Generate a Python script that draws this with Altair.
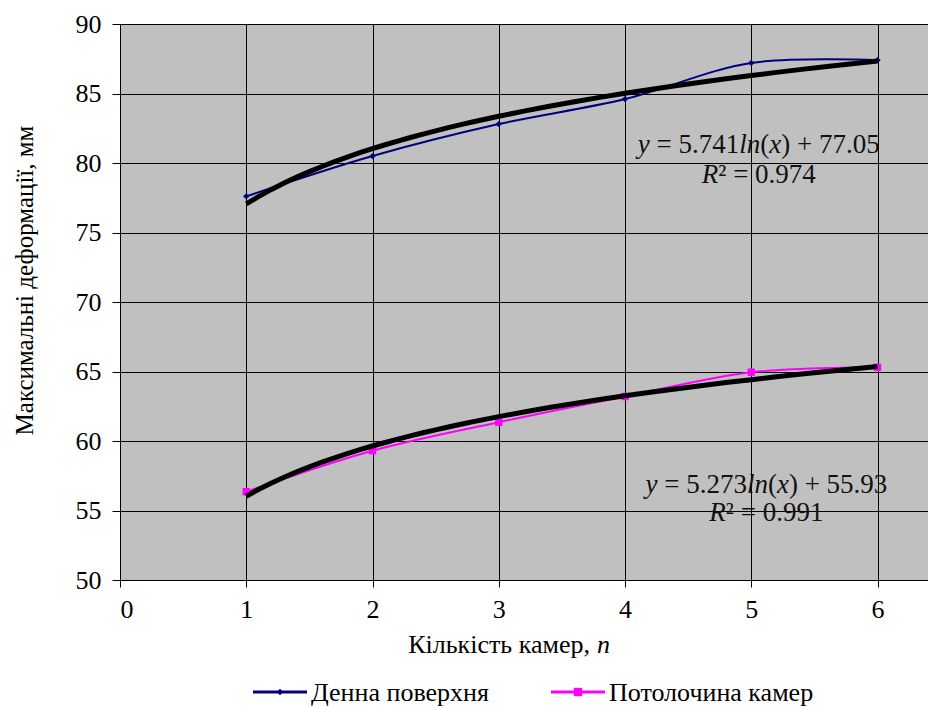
import altair as alt
import pandas as pd

x_vals = [1, 2, 3, 4, 5, 6]
surface = [77.6, 80.5, 82.8, 84.6, 87.2, 87.4]
ceiling = [56.35, 59.3, 61.35, 63.2, 64.95, 65.3]
series_names = ["Денна поверхня", "Потолочина камер"]
colors = ["#000080", "#FF00FF"]
y_ticks = [50, 55, 60, 65, 70, 75, 80, 85, 90]
x_ticks = [0, 1, 2, 3, 4, 5, 6]

# equation lines: (text piece, italic?, leading spaces) ; centre in data coords
eq_lines = [
    [("y", True, 0), ("= 5.741", False, 1), ("ln", True, 0), ("(", False, 0), ("x", True, 0), (") + 77.05", False, 0)],
    [("R", True, 0), ("² = 0.974", False, 0)],
    [("y", True, 0), ("= 5.273", False, 1), ("ln", True, 0), ("(", False, 0), ("x", True, 0), (") + 55.93", False, 0)],
    [("R", True, 0), ("² = 0.991", False, 0)],
]
eq_cx = [5.06, 5.06, 5.12, 5.12]
eq_cy = [81.3, 79.15, 56.85, 54.85]

FONT = "Liberation Serif"
EQ_SIZE = 27

# Times / Liberation Serif advance widths (em/1000)
W_NORM = {" ": 250, "=": 564, "+": 564, ".": 250, "(": 333, ")": 333, "²": 300}
W_ITAL = {"y": 444, "l": 278, "n": 500, "x": 444, "R": 611}


def text_width(s, italic):
    tot = 0
    for ch in s:
        if italic:
            tot += W_ITAL.get(ch, 500)
        else:
            tot += W_NORM.get(ch, 500)
    return tot / 1000 * EQ_SIZE


SPACE = 250 / 1000 * EQ_SIZE

df = pd.DataFrame({
    "x": x_vals * 2,
    "y": surface + ceiling,
    "series": [series_names[0]] * 6 + [series_names[1]] * 6,
})

xs = alt.Scale(domain=[0, 6.4], nice=False, zero=False)
ys = alt.Scale(domain=[50, 90], nice=False, zero=False)
cs = alt.Scale(domain=series_names, range=colors)

xax = alt.Axis(values=x_ticks, format="d", title=None, grid=True, gridColor="black",
               gridOpacity=1, gridWidth=1, domainColor="black", tickColor="black", tickSize=7,
               labelPadding=9, labelFont=FONT, labelFontSize=26, labelColor="black")
yax = alt.Axis(values=y_ticks, format="d", title="Максимальні деформації, мм", grid=True, gridColor="black",
               gridOpacity=1, gridWidth=1, domainColor="black", tickColor="black", tickSize=8,
               labelPadding=11, labelFont=FONT, labelFontSize=26, labelColor="black",
               titleFont=FONT, titleFontSize=25, titleFontWeight="normal", titleColor="black",
               titleX=-83, titleY=256, titleAlign="center", titleAnchor="start")

base = alt.Chart(df)

lines = base.mark_line(interpolate="catmull-rom", strokeWidth=2).encode(
    x=alt.X("x:Q", scale=xs, axis=xax),
    y=alt.Y("y:Q", scale=ys, axis=yax),
    color=alt.Color("series:N", scale=cs, legend=None),
)

pts_s = base.transform_filter(alt.datum.series == series_names[0]).mark_point(
    shape="diamond", filled=True, size=40, opacity=1).encode(
    x="x:Q", y="y:Q", color=alt.Color("series:N", scale=cs, legend=None))
pts_c = base.transform_filter(alt.datum.series == series_names[1]).mark_point(
    shape="square", filled=True, size=55, opacity=1).encode(
    x="x:Q", y="y:Q", color=alt.Color("series:N", scale=cs, legend=None))

trend = base.transform_regression("x", "y", method="log", groupby=["series"]).mark_line(
    color="black", strokeWidth=5).encode(x="x:Q", y="y:Q", detail="series:N")

# equation annotations, pieces with italic parts
eq_layers = []
for line, cx, cy in zip(eq_lines, eq_cx, eq_cy):
    total = sum(text_width(s, it) + lead * SPACE for s, it, lead in line)
    off = -total / 2
    for s, it, lead in line:
        off += lead * SPACE
        d = pd.DataFrame({"x": [cx], "y": [cy], "t": [s]})
        eq_layers.append(
            alt.Chart(d).mark_text(font=FONT, fontSize=EQ_SIZE, color="#111111", baseline="middle",
                                   align="left", dx=off, fontStyle="italic" if it else "normal")
            .encode(x="x:Q", y="y:Q", text="t:N"))
        off += text_width(s, it)

# x axis title with italic n
xt = pd.DataFrame({"a": ["Кількість камер,"], "b": ["n"]})
xt_a = alt.Chart(xt).mark_text(font=FONT, fontSize=26, align="right", baseline="middle",
                               color="black").encode(x=alt.value(470), y=alt.value(621), text="a:N")
xt_b = alt.Chart(xt).mark_text(font=FONT, fontSize=26, align="left", baseline="middle",
                               fontStyle="italic", color="black").encode(
    x=alt.value(477), y=alt.value(621), text="b:N")


# custom legend (line + marker + label)
def legend_entry(i, x0, shape, size):
    lx = pd.DataFrame({"t": [series_names[i]]})
    c = alt.Chart(lx)
    rule = c.mark_rule(color=colors[i], strokeWidth=3).encode(
        x=alt.value(x0), x2=alt.value(x0 + 54), y=alt.value(668))
    mk = c.mark_point(shape=shape, filled=True, size=size, color=colors[i], opacity=1).encode(
        x=alt.value(x0 + 27), y=alt.value(668))
    tx = c.mark_text(font=FONT, fontSize=26, align="left", baseline="middle", color="black").encode(
        x=alt.value(x0 + 58), y=alt.value(669), text="t:N")
    return rule + mk + tx


leg = legend_entry(0, 133, "diamond", 45) + legend_entry(1, 431, "square", 70)

chart = alt.layer(lines, pts_s, pts_c, trend, *eq_layers, xt_a, xt_b, leg).properties(
    width=808, height=556,
    autosize=alt.AutoSizeParams(type="none"),
    padding={"left": 112, "top": 16, "right": 0, "bottom": 126},
).configure_view(fill="#C0C0C0", stroke=None).configure_axis(
    labelFont=FONT, titleFont=FONT).configure_text(font=FONT)

chart.save("out.html", embed_options={"renderer": "svg", "actions": False})
